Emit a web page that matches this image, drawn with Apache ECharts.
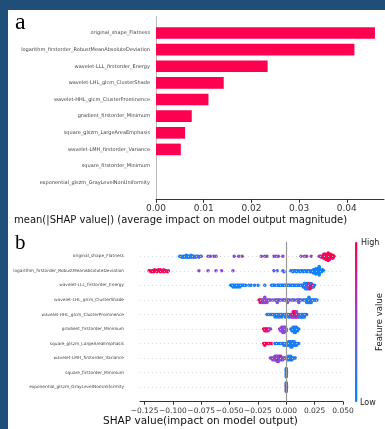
<!DOCTYPE html>
<html>
<head>
<meta charset="utf-8">
<script src="https://cdn.jsdelivr.net/npm/echarts@6/dist/echarts.min.js"></script>
<style>
  html, body { margin: 0; padding: 0; background: #1f4e79; }
  #chart { width: 385px; height: 429px; }
</style>
</head>
<body>
<div id="chart"></div>
<script>
// Feature names, ordered from most to least important
const features = [
  'original_shape_Flatness',
  'logarithm_firstorder_RobustMeanAbsoluteDeviation',
  'wavelet-LLL_firstorder_Energy',
  'wavelet-LHL_glcm_ClusterShade',
  'wavelet-HHL_glcm_ClusterProminence',
  'gradient_firstorder_Minimum',
  'square_glszm_LargeAreaEmphasis',
  'wavelet-LMH_firstorder_Variance',
  'square_firstorder_Minimum',
  'exponential_glszm_GrayLevelNonUniformity'
];

// Panel a: mean(|SHAP value|) per feature
const meanAbsShap = [0.0459, 0.0416, 0.0234, 0.0142, 0.0110, 0.0075, 0.0061, 0.0052, 0.0, 0.0];
const barTicks = [0, 0.01, 0.02, 0.03, 0.04];

// Panel b: per-sample [SHAP value, normalised feature value]
const flatnessPts = [
  [-0.094,.05],[-0.093,.05],[-0.092,.1],[-0.091,.05],[-0.091,.1],[-0.090,.05],[-0.089,.1],[-0.089,.05],[-0.088,.1],[-0.087,.05],
  [-0.087,.1],[-0.086,.1],[-0.086,.05],[-0.085,.1],[-0.084,.15],[-0.084,.1],[-0.083,.1],[-0.082,.15],[-0.082,.1],[-0.081,.15],
  [-0.080,.2],[-0.079,.15],[-0.078,.25],[-0.077,.2],[-0.076,.3],[-0.075,.35],
  [-0.069,.45],[-0.067,.5],[-0.064,.5],[-0.062,.5],[-0.046,.5],[-0.042,.5],[-0.039,.55],[-0.022,.5],[-0.019,.5],[-0.017,.55],
  [-0.011,.5],[-0.009,.55],[-0.007,.5],[-0.003,.55],[0.013,.55],[0.016,.5],[0.018,.55],[0.022,.55],
  [0.029,.6],[0.030,.7],[0.031,.75],[0.031,.8],[0.032,.85],[0.032,.8],[0.033,.9],[0.033,.85],[0.033,.95],[0.034,.9],
  [0.034,.95],[0.034,1],[0.034,.9],[0.034,1],[0.035,.95],[0.035,1],[0.035,.9],[0.035,1],[0.035,.95],[0.035,1],
  [0.036,1],[0.036,.95],[0.036,1],[0.036,.9],[0.037,1],[0.037,.95],[0.037,1],[0.037,1],[0.038,1],[0.038,.95],
  [0.038,1],[0.038,1],[0.038,.9],[0.038,1],[0.039,.95],[0.039,1],[0.039,1],[0.039,.95],[0.039,1],[0.040,1],
  [0.040,.95],[0.041,1],[0.041,.95],[0.042,1]
];
const robustMadPts = [
  [-0.121,.9],[-0.120,1],[-0.119,.95],[-0.118,1],[-0.117,.9],[-0.117,1],[-0.116,1],[-0.115,.95],[-0.114,1],[-0.114,.85],
  [-0.113,1],[-0.112,.95],[-0.111,1],[-0.111,.9],[-0.110,1],[-0.109,.95],[-0.108,1],[-0.108,.8],[-0.107,1],[-0.106,.9],
  [-0.105,.95],[-0.104,.85],
  [-0.077,.55],[-0.069,.5],[-0.062,.5],[-0.057,.55],[-0.047,.5],
  [-0.011,.35],[-0.008,.3],[-0.003,.3],[-0.002,.25],
  [0.004,.1],[0.005,.15],[0.006,.1],[0.007,.1],[0.008,.15],[0.009,.1],[0.010,.1],[0.011,.15],[0.012,.1],[0.013,.1],
  [0.014,.1],[0.015,.15],[0.016,.1],[0.017,.1],[0.018,.1],[0.019,.15],[0.020,.1],[0.021,.1],[0.022,.1],[0.022,.15],
  [0.023,.1],[0.023,.1],[0.024,.05],[0.024,.1],[0.025,.1],[0.025,.05],[0.025,.1],[0.026,.05],[0.026,.1],[0.026,.05],
  [0.027,.05],[0.027,.1],[0.027,.05],[0.027,.1],[0.028,.05],[0.028,.1],[0.028,.05],[0.028,.05],[0.028,.1],[0.029,.05],
  [0.029,.1],[0.029,.05],[0.029,.05],[0.030,.1],[0.030,.05],[0.030,.05],[0.031,.05],[0.031,.1],[0.032,.05],[0.033,.05]
];
const lllEnergyPts = [
  [-0.049,.05],[-0.048,.1],[-0.047,.05],[-0.047,.1],[-0.046,.05],[-0.045,.1],[-0.045,.05],[-0.044,.1],[-0.043,.05],[-0.043,.1],
  [-0.042,.1],[-0.041,.05],[-0.041,.1],[-0.040,.1],[-0.039,.1],[-0.038,.05],[-0.037,.1],[-0.036,.1],
  [-0.033,.1],[-0.031,.15],[-0.028,.1],[-0.025,.1],[-0.019,.15],
  [-0.013,.1],[-0.012,.1],[-0.011,.15],[-0.010,.1],[-0.008,.1],[-0.007,.15],[-0.006,.1],[-0.005,.1],[-0.004,.1],[-0.003,.15],
  [-0.002,.1],[-0.001,.1],[0.000,.1],[0.001,.15],[0.002,.1],[0.003,.1],[0.004,.1],[0.005,.15],[0.006,.1],[0.007,.1],
  [0.008,.1],[0.009,.15],[0.010,.1],[0.011,.1],[0.012,.15],[0.013,.1],
  [0.014,.1],[0.015,.1],[0.015,.15],[0.016,.1],[0.016,.15],[0.016,.1],[0.017,.1],[0.017,.15],[0.017,.1],[0.017,.1],
  [0.018,.1],[0.018,.15],[0.018,.1],[0.018,.2],[0.019,.1],[0.019,.6],[0.019,.15],[0.019,.1],[0.020,.8],[0.020,.1],
  [0.020,.9],[0.020,.15],[0.021,.9],[0.021,1],[0.021,.1],[0.021,.95],[0.022,1],[0.022,.95],[0.022,.1],[0.023,1],
  [0.023,.9],[0.024,.95],[0.024,.2],[0.025,.1]
];
const lhlShadePts = [
  [-0.024,.9],[-0.023,1],[-0.023,.85],[-0.022,.7],[-0.021,.6],[-0.021,.55],[-0.020,.5],[-0.020,.55],[-0.019,.5],[-0.019,.6],
  [-0.019,.5],[-0.018,.55],[-0.018,.5],[-0.017,.5],[-0.017,.55],[-0.016,.5],[-0.015,.5],[-0.014,.45],
  [-0.012,.45],[-0.010,.45],[-0.009,.4],[-0.008,.45],[-0.008,.4],[-0.007,.45],[-0.006,.4],[-0.005,.45],[-0.003,.4],[-0.002,.45],
  [-0.001,.4],[0.000,.4],[0.001,.4],[0.001,.45],[0.002,.4],[0.003,.4],[0.005,.4],[0.006,.35],[0.007,.4],[0.009,.35],
  [0.010,.4],[0.011,.35],[0.011,.4],[0.012,.35],[0.013,.3],
  [0.015,.15],[0.016,.1],[0.017,.1],[0.018,.1],[0.018,.15],[0.019,.1],[0.019,.1],[0.020,.1],[0.020,.15],[0.020,.1],
  [0.021,.1],[0.021,.1],[0.022,.1],[0.022,.15],[0.023,.1],[0.024,.1],[0.025,.1],[0.026,.1],[0.027,.1]
];
const hhlProminencePts = [
  [-0.017,.1],[-0.016,.1],[-0.015,.15],[-0.014,.1],[-0.013,.1],[-0.012,.1],[-0.011,.15],[-0.010,.1],[-0.010,.1],[-0.009,.1],
  [-0.008,.15],[-0.008,.1],[-0.007,.1],[-0.006,.1],[-0.006,.15],[-0.005,.1],[-0.004,.1],[-0.004,.1],[-0.003,.15],[-0.002,.1],
  [-0.001,.1],[-0.001,.1],[0.000,.15],[0.001,.1],[0.002,.1],[0.002,.1],[0.003,.15],[0.004,.1],[0.004,.4],
  [0.005,.9],[0.005,.6],[0.006,1],[0.006,.5],[0.006,.8],[0.007,.95],[0.007,.55],[0.007,1],[0.008,.9],[0.008,.5],
  [0.008,1],[0.009,.6],[0.009,.95],[0.009,.5],[0.010,.9],[0.010,.55],[0.011,.7],[0.011,.5],[0.012,.45],
  [0.012,.1],[0.013,.1],[0.013,.15],[0.014,.1],[0.014,.1],[0.015,.1],[0.015,.1],[0.016,.15],[0.016,.1],[0.017,.1],[0.018,.1]
];
const gradientMinPts = [
  [-0.020,1],[-0.019,.95],[-0.019,1],[-0.018,1],[-0.018,.9],[-0.017,1],[-0.017,.95],[-0.016,1],[-0.016,.7],[-0.015,.6],[-0.014,.55],
  [-0.006,.5],[-0.005,.5],[-0.005,.55],[-0.004,.5],[-0.004,.5],[-0.004,.55],[-0.003,.5],[-0.003,.5],[-0.003,.5],[-0.003,.55],
  [-0.002,.5],[-0.002,.5],[-0.002,.55],[-0.002,.5],[-0.001,.5],[-0.001,.55],[-0.001,.5],[0.000,.5],[0.000,.5],
  [0.004,.1],[0.005,.1],[0.005,.1],[0.006,.1],[0.006,.15],[0.006,.1],[0.007,.1],[0.007,.1],[0.007,.1],[0.007,.15],
  [0.008,.1],[0.008,.1],[0.008,.1],[0.008,.1],[0.009,.1],[0.009,.1],[0.009,.15],[0.010,.1],[0.010,.1],[0.011,.1]
];
const largeAreaPts = [
  [-0.020,1],[-0.019,.95],[-0.019,1],[-0.018,.9],[-0.017,1],[-0.016,.95],[-0.015,1],[-0.014,.8],[-0.013,.9],
  [-0.010,.1],[-0.009,.1],[-0.008,.15],[-0.007,.1],[-0.006,.1],[-0.005,.1],[-0.004,.1],[-0.003,.15],[-0.002,.1],[-0.002,.1],
  [-0.001,.1],[-0.001,.1],[0.000,.1],[0.000,.15],[0.001,.1],[0.001,.1],[0.002,.1],[0.002,.1],[0.002,.15],[0.003,.1],
  [0.003,.1],[0.003,.1],[0.004,.1],[0.004,.1],[0.004,.15],[0.004,.1],[0.005,.1],[0.005,.1],[0.005,.1],[0.005,.15],
  [0.006,.1],[0.006,.1],[0.006,.1],[0.007,.1],[0.007,.15],[0.007,.1],[0.008,.1],[0.008,.1],[0.009,.1],[0.009,.1],
  [0.010,.1],[0.011,.1]
];
const lmhVariancePts = [
  [-0.014,.5],[-0.013,.55],[-0.012,.5],[-0.012,.45],[-0.011,.5],[-0.011,.55],[-0.010,.5],[-0.010,.45],[-0.010,.5],[-0.009,.9],
  [-0.009,.5],[-0.009,.55],[-0.008,.5],[-0.008,.5],[-0.008,.45],[-0.008,.5],[-0.007,.5],[-0.007,1],[-0.007,.5],[-0.007,.55],
  [-0.006,.5],[-0.006,.5],[-0.006,.45],[-0.005,.55],[-0.005,.5],[-0.005,.9],[-0.004,.5],[-0.004,.45],[-0.003,.5],[-0.003,.4],
  [-0.002,.45],[-0.001,.4],
  [0.000,.2],[0.001,.15],[0.001,.1],[0.002,.1],[0.002,.15],[0.002,.1],[0.003,.1],[0.003,.1],[0.004,.1],[0.004,.15],
  [0.004,.1],[0.005,.1],[0.005,.1],[0.006,.1],[0.007,.1],[0.008,.1]
];
const squareMinPts = [
  [0,.1],[0,.1],[0,.1],[0,.1],[0,.1],[0,.1],[0,.1],[0,.1],[0,.1]
];
const grayLevelPts = [
  [0,1],[0,.95],[0,.9],[0,.1],[0,.1],[0,.1],[0,.1],[0,.1],[0,.1],[0,.1],[0,.1]
];
const swarmRows = [flatnessPts, robustMadPts, lllEnergyPts, lhlShadePts, hhlProminencePts,
                   gradientMinPts, largeAreaPts, lmhVariancePts, squareMinPts, grayLevelPts];
const swarmTicks = [-0.125, -0.1, -0.075, -0.05, -0.025, 0, 0.025, 0.05];

// Beeswarm stacking: points in the same value bin are spread alternately above/below the row line
function swarmOffsets(vals) {
  const nbins = 100, rowHeight = 0.4;
  const lo = Math.min(...vals), hi = Math.max(...vals);
  const q = vals.map(v => Math.round(nbins * (v - lo) / (hi - lo + 1e-8)));
  const order = vals.map((_, i) => i).sort((a, b) => (q[a] - q[b]) || (a - b));
  const ys = new Array(vals.length).fill(0);
  let layer = 0, last = -1;
  for (const i of order) {
    if (q[i] !== last) layer = 0;
    ys[i] = Math.ceil(layer / 2) * ((layer % 2) * 2 - 1);
    layer++;
    last = q[i];
  }
  const m = Math.max(...ys.map(y => y + 1));
  return ys.map(y => y * 0.9 * (rowHeight / m));
}

const swarmData = [];
swarmRows.forEach((pts, r) => {
  const offs = swarmOffsets(pts.map(p => p[0]));
  pts.forEach((p, i) => swarmData.push([p[0], r + offs[i], p[1]]));
});

const barData = meanAbsShap.map((v, i) => [v, i]);
const rowIdx = features.map((_, i) => i);
const FONT = '"DejaVu Sans", sans-serif';

const chart = echarts.init(document.getElementById('chart'), null, { renderer: 'canvas' });
chart.setOption({
  animation: false,
  backgroundColor: '#1f4e79',
  grid: [
    { left: 156, top: 16.4, width: 228, height: 182.9 },
    { left: 140, top: 241.7, width: 203, height: 160 }
  ],
  xAxis: [
    {
      gridIndex: 0, type: 'value', min: 0, max: 0.0478,
      axisLine: { show: true, onZero: false, lineStyle: { color: '#333', width: 1 } },
      axisTick: { show: true, length: 3.5, lineStyle: { color: '#333' }, customValues: barTicks },
      axisLabel: { customValues: barTicks, margin: 5, fontSize: 9, fontFamily: FONT, color: '#333',
                   formatter: v => v.toFixed(2) },
      splitLine: { show: false }
    },
    {
      gridIndex: 1, type: 'value', min: -0.129, max: 0.050,
      axisLine: { show: true, onZero: false, lineStyle: { color: '#333', width: 1 } },
      axisTick: { show: true, length: 3, lineStyle: { color: '#333' }, customValues: swarmTicks },
      axisLabel: { customValues: swarmTicks, margin: 5, fontSize: 7.5, fontFamily: FONT, color: '#333',
                   formatter: v => v.toFixed(3).replace('-', '\u2212') },
      splitLine: { show: false }
    }
  ],
  yAxis: [
    {
      gridIndex: 0, type: 'value', min: -1, max: 10, interval: 1, inverse: true,
      axisLine: { show: true, onZero: false, lineStyle: { color: '#bbb', width: 1 } },
      axisTick: { show: false },
      axisLabel: { customValues: rowIdx, margin: 6, fontSize: 5, fontFamily: FONT, color: '#444',
                   formatter: v => features[v] || '' },
      splitLine: { show: false }
    },
    {
      gridIndex: 1, type: 'value', min: -1, max: 10, interval: 1, inverse: true,
      axisLine: { show: false, onZero: false },
      axisTick: { show: false },
      axisLabel: { customValues: rowIdx, margin: 16, fontSize: 4.3, fontFamily: FONT, color: '#444',
                   formatter: v => features[v] || '' },
      splitLine: { show: false }
    }
  ],
  visualMap: {
    type: 'continuous', min: 0, max: 1, dimension: 2, seriesIndex: 2,
    show: true, calculable: false, orient: 'vertical',
    left: 355, top: 242, itemWidth: 2.5, itemHeight: 160, padding: 0,
    inRange: { color: ['#008bfb', '#8c4ad8', '#ff0051'] }
  },
  series: [
    {
      type: 'custom', xAxisIndex: 0, yAxisIndex: 0, data: barData,
      encode: { x: 0, y: 1 },
      renderItem: function (params, api) {
        const v = api.value(0), row = api.value(1);
        const p0 = api.coord([0, row]);
        const p1 = api.coord([v, row]);
        const h = api.size([0, 0.7])[1];
        return { type: 'rect',
                 shape: { x: p0[0], y: p0[1] - h / 2, width: p1[0] - p0[0], height: h },
                 style: { fill: '#ff0051' } };
      }
    },
    {
      type: 'scatter', xAxisIndex: 1, yAxisIndex: 1, data: [], z: 1,
      markLine: {
        silent: true, symbol: 'none', label: { show: false }, animation: false,
        data: rowIdx.map(i => ({ yAxis: i, lineStyle: { color: '#cfcfcf', type: [1, 3], width: 0.8 } }))
          .concat([{ xAxis: 0, lineStyle: { color: '#999', type: 'solid', width: 1.2 } }])
      }
    },
    {
      type: 'scatter', xAxisIndex: 1, yAxisIndex: 1, data: swarmData, z: 3,
      symbol: 'circle', symbolSize: 3.5, itemStyle: { opacity: 1 }
    }
  ],
  graphic: [
    { type: 'rect', z: -10, shape: { x: 8, y: 10, width: 377, height: 419 }, style: { fill: '#fff' } },
    { type: 'text', z: 10, style: { x: 15, y: 22.5, text: 'a', font: '24px "Liberation Serif", serif', fill: '#000', verticalAlign: 'middle' } },
    { type: 'text', z: 10, style: { x: 15, y: 243, text: 'b', font: '21px "Liberation Serif", serif', fill: '#000', verticalAlign: 'middle' } },
    { type: 'text', z: 10, style: { x: 14, y: 220.7, text: 'mean(|SHAP value|) (average impact on model output magnitude)',
      font: '10px ' + FONT, fill: '#111', verticalAlign: 'middle' } },
    { type: 'text', z: 10, style: { x: 103, y: 421.7, text: 'SHAP value(impact on model output)',
      font: '10.5px ' + FONT, fill: '#111', verticalAlign: 'middle' } },
    { type: 'text', z: 10, style: { x: 361, y: 243, text: 'High', font: '8px ' + FONT, fill: '#222', verticalAlign: 'middle' } },
    { type: 'text', z: 10, style: { x: 360, y: 402.5, text: 'Low', font: '8px ' + FONT, fill: '#222', verticalAlign: 'middle' } },
    { type: 'text', z: 10, x: 380, y: 322, rotation: Math.PI / 2,
      style: { x: 0, y: 0, text: 'Feature value', font: '8.5px ' + FONT, fill: '#222', align: 'center', verticalAlign: 'middle' } }
  ]
});
</script>
</body>
</html>
